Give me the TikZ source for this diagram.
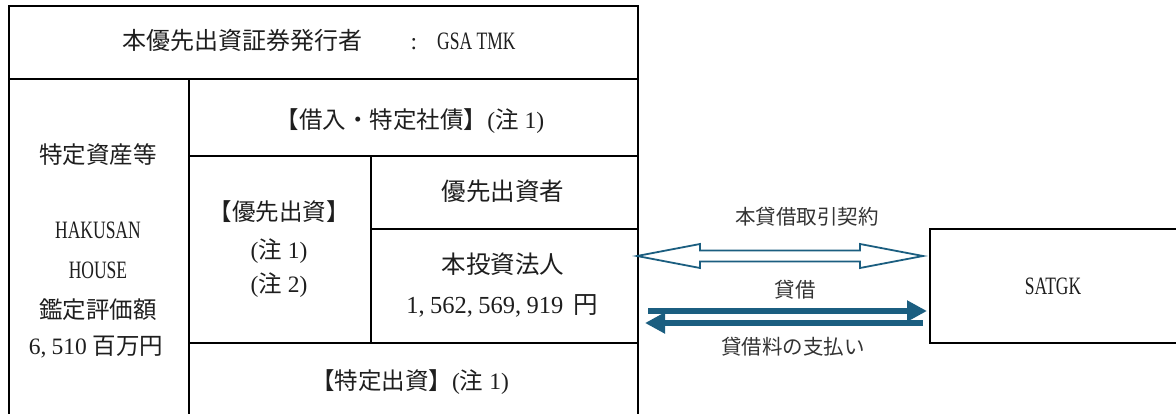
\documentclass[tikz,border=0pt]{standalone}
\usepackage{fontspec}
\setmainfont{Liberation Serif}
\newfontfamily\cjk{Noto Sans CJK JP}
\newfontfamily\capf[FakeStretch=0.7]{Liberation Serif}
\usetikzlibrary{arrows.meta,calc}
\definecolor{arrowblue}{HTML}{1B5E80}
\definecolor{txtc}{HTML}{1E1E1E}
\definecolor{lblc}{HTML}{333333}
\newcommand\mycomma{,\hspace{0.22em}}
\newcommand\mynote[1]{({\cjk 注}\hspace{0.25em}#1)}
\newcommand\capt[1]{{\fontsize{25}{28}\selectfont\capf #1}}
\begin{document}
\begin{tikzpicture}[x=1pt,y=-1pt,
  cell/.style={draw=black, line width=2.4pt, inner sep=0pt, anchor=north west},
  lbl/.style={font=\fontsize{23.5}{27}\selectfont, text=txtc, inner sep=0pt, text height=17pt, text depth=0pt},
  big/.style={font=\fontsize{24.5}{28}\selectfont},
  albl/.style={font=\fontsize{20.5}{24}\selectfont, text=lblc, inner sep=0pt, text height=15pt, text depth=0pt},
  thick arrow/.style={draw=arrowblue, line width=6pt, -{Triangle[length=20pt,width=20pt]}}]
\useasboundingbox (0,0) rectangle (1176,414);
% cells
\node[cell, minimum width=629pt, minimum height=73pt] (hdr) at (8,5) {};
\node[cell, minimum width=180pt, minimum height=345pt] (asset) at (8,78) {};
\node[cell, minimum width=449pt, minimum height=77pt] (loan) at (188,78) {};
\node[cell, minimum width=182pt, minimum height=187pt] (pref) at (188,155) {};
\node[cell, minimum width=267pt, minimum height=73pt] (holder) at (370,155) {};
\node[cell, minimum width=267pt, minimum height=114pt] (inv) at (370,228) {};
\node[cell, minimum width=449pt, minimum height=81pt] (spec) at (188,342) {};
\node[cell, minimum width=270pt, minimum height=114pt] (satgk) at (929,228) {};
% texts
\node[lbl, anchor=west, font=\fontsize{24}{28}\selectfont] (hdrA) at (122,41) {\cjk 本優先出資証券発行者};
\node[lbl] (hdrB) at (414,41) {:};
\node[lbl, anchor=west] (hdrC) at (437,41) {\capt{GSA TMK}};
\node[lbl] (t1) at (98,155) {\cjk 特定資産等};
\node[lbl] (t2) at (98,230) {\capt{HAKUSAN}};
\node[lbl] (t3) at (98,270) {\capt{HOUSE}};
\node[lbl] (t4) at (98,310) {\cjk 鑑定評価額};
\node[lbl] (t5) at (96,346) {6\mycomma 510 {\cjk 百万円}};
\node[lbl] (t6) at (410,120) {{\cjk 【借入・特定社債】}\mynote{1}};
\node[lbl] (t7) at (279,212) {\cjk 【優先出資】};
\node[lbl] (t8) at (279,250) {\mynote{1}};
\node[lbl] (t9) at (279,284) {\mynote{2}};
\node[lbl, big] (t10) at (503,192) {\cjk 優先出資者};
\node[lbl, big] (t11) at (503,265) {\cjk 本投資法人};
\node[lbl, big] (t12) at (502,305) {1\mycomma 562\mycomma 569\mycomma 919\hspace{0.15em} {\cjk 円}};
\node[lbl] (t13) at (410,381) {{\cjk 【特定出資】}\mynote{1}};
\node[lbl] (t14) at (1053,286) {\capt{SATGK}};
% arrow labels
\node[albl] (a1) at (807,217) {\cjk 本貸借取引契約};
\node[albl] (a2) at (795,290) {\cjk 貸借};
\node[albl] (a3) at (793,347) {\cjk 貸借料の支払い};
% hollow double arrow
\coordinate (dl) at (637,256);
\coordinate (dr) at (923,256);
\draw[draw=arrowblue, line width=1.8pt, fill=white, line join=miter]
  (dl) -- ($(dl)+(63,-12)$) -- ($(dl)+(63,-5.5)$) -- ($(dr)+(-63,-5.5)$) -- ($(dr)+(-63,-12)$) -- (dr)
  -- ($(dr)+(-63,12)$) -- ($(dr)+(-63,5.5)$) -- ($(dl)+(63,5.5)$) -- ($(dl)+(63,12)$) -- cycle;
% filled arrows
\coordinate (r1) at (648,311);
\coordinate (r2) at (927,311);
\coordinate (l1) at (923,323);
\coordinate (l2) at (645,323);
\draw[thick arrow] (r1) -- (r2);
\draw[thick arrow] (l1) -- (l2);
\end{tikzpicture}
\end{document}
